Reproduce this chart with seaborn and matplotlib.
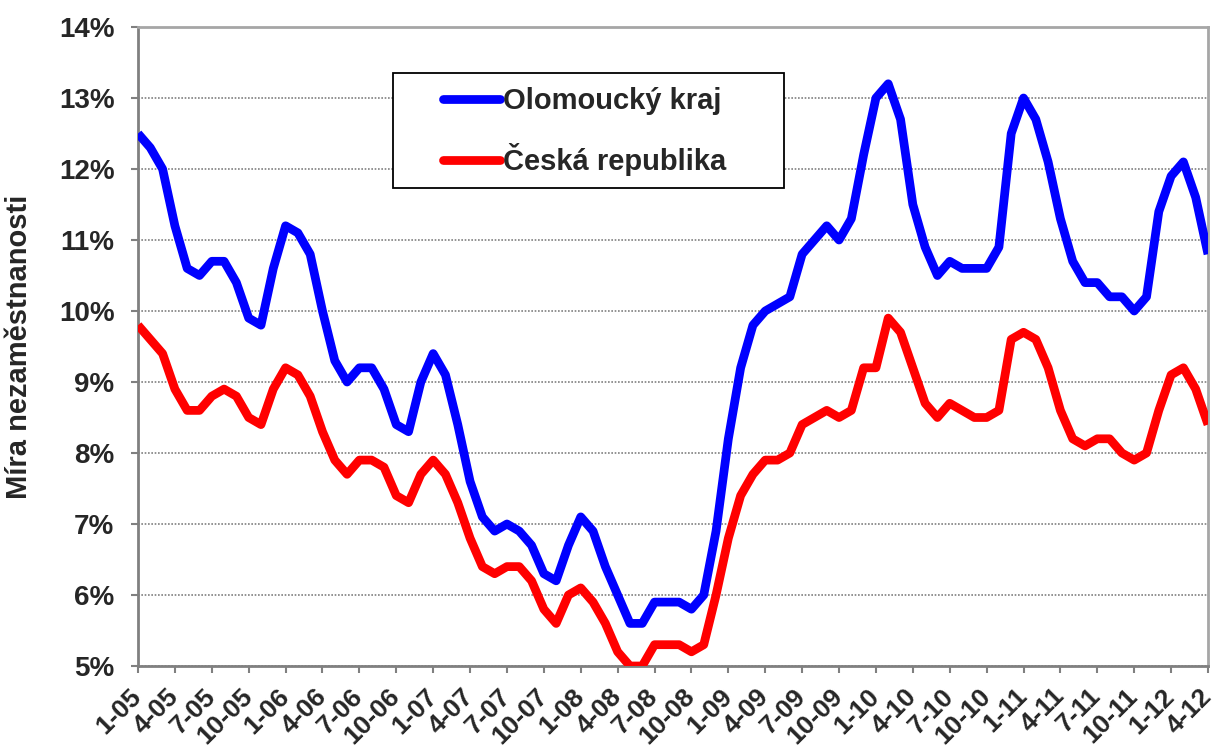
import numpy as np
import pandas as pd
import matplotlib
matplotlib.use("Agg")
import matplotlib.pyplot as plt
import matplotlib.transforms as mtransforms
from matplotlib.patches import Rectangle
import seaborn as sns

# ---------------- data ----------------
olomoucky = [12.5, 12.3, 12.0, 11.2, 10.6, 10.5, 10.7, 10.7, 10.4, 9.9, 9.8, 10.6,
             11.2, 11.1, 10.8, 10.0, 9.3, 9.0, 9.2, 9.2, 8.9, 8.4, 8.3, 9.0,
             9.4, 9.1, 8.4, 7.6, 7.1, 6.9, 7.0, 6.9, 6.7, 6.3, 6.2, 6.7,
             7.1, 6.9, 6.4, 6.0, 5.6, 5.6, 5.9, 5.9, 5.9, 5.8, 6.0, 6.9,
             8.2, 9.2, 9.8, 10.0, 10.1, 10.2, 10.8, 11.0, 11.2, 11.0, 11.3, 12.2,
             13.0, 13.2, 12.7, 11.5, 10.9, 10.5, 10.7, 10.6, 10.6, 10.6, 10.9, 12.5,
             13.0, 12.7, 12.1, 11.3, 10.7, 10.4, 10.4, 10.2, 10.2, 10.0, 10.2, 11.4,
             11.9, 12.1, 11.6, 10.8]
ceska = [9.8, 9.6, 9.4, 8.9, 8.6, 8.6, 8.8, 8.9, 8.8, 8.5, 8.4, 8.9,
         9.2, 9.1, 8.8, 8.3, 7.9, 7.7, 7.9, 7.9, 7.8, 7.4, 7.3, 7.7,
         7.9, 7.7, 7.3, 6.8, 6.4, 6.3, 6.4, 6.4, 6.2, 5.8, 5.6, 6.0,
         6.1, 5.9, 5.6, 5.2, 5.0, 5.0, 5.3, 5.3, 5.3, 5.2, 5.3, 6.0,
         6.8, 7.4, 7.7, 7.9, 7.9, 8.0, 8.4, 8.5, 8.6, 8.5, 8.6, 9.2,
         9.2, 9.9, 9.7, 9.2, 8.7, 8.5, 8.7, 8.6, 8.5, 8.5, 8.6, 9.6,
         9.7, 9.6, 9.2, 8.6, 8.2, 8.1, 8.2, 8.2, 8.0, 7.9, 8.0, 8.6,
         9.1, 9.2, 8.9, 8.4]
series_names = ["Olomoucký kraj", "Česká republika"]
x_tick_labels = ["1-05", "4-05", "7-05", "10-05",
                 "1-06", "4-06", "7-06", "10-06",
                 "1-07", "4-07", "7-07", "10-07",
                 "1-08", "4-08", "7-08", "10-08",
                 "1-09", "4-09", "7-09", "10-09",
                 "1-10", "4-10", "7-10", "10-10",
                 "1-11", "4-11", "7-11", "10-11",
                 "1-12", "4-12"]
y_ticks = [5, 6, 7, 8, 9, 10, 11, 12, 13, 14]
y_label = "Míra nezaměstnanosti"

# ---------------- style ----------------
sns.set_theme(style="ticks")
plt.rcParams["font.family"] = ["Liberation Sans", "DejaVu Sans"]
plt.rcParams["font.weight"] = "bold"
plt.rcParams["axes.labelweight"] = "bold"

W, H = 1215, 749
fig = plt.figure(figsize=(W / 100, H / 100), dpi=100)
L, R, T, B = 138, 1208, 27, 666
ax = fig.add_axes([L / W, 1 - B / H, (R - L) / W, (B - T) / H])

n = len(olomoucky)
df = pd.DataFrame({
    "month": list(range(n)) * 2,
    "rate": olomoucky + ceska,
    "region": [series_names[0]] * n + [series_names[1]] * n,
})
sns.lineplot(data=df, x="month", y="rate", hue="region",
             palette={series_names[0]: "#0000ff", series_names[1]: "#ff0000"},
             linewidth=6.3, ax=ax, sort=False, solid_joinstyle="round",
             solid_capstyle="butt", zorder=3)

ax.set_xlim(0, n - 1)
ax.set_ylim(y_ticks[0], y_ticks[-1])
ax.set_xticks(np.arange(0, n, 3))
ax.set_xticklabels(x_tick_labels, rotation=45, ha="right", va="center",
                   rotation_mode="anchor", fontsize=19, fontweight="bold")
offset = mtransforms.ScaledTranslation(4 / 100, 0, fig.dpi_scale_trans)
for lbl in ax.get_xticklabels():
    lbl.set_transform(lbl.get_transform() + offset)
ax.set_yticks(y_ticks)
ax.set_yticklabels([f"{v}%" for v in y_ticks], fontsize=20, fontweight="bold")
ax.tick_params(axis="y", direction="out", length=5, width=1.5, color="#808080", pad=12)
ax.tick_params(axis="x", direction="out", length=5, width=1.5, color="#808080", pad=14)

ax.set_xlabel("")
ax.set_ylabel(y_label, fontsize=21, fontweight="bold")
ax.yaxis.set_label_coords((33 - L) / (R - L), 0.5)

ax.yaxis.grid(True, color="#808080", linestyle=(0, (1, 1)), linewidth=1.2)
ax.xaxis.grid(False)
for side in ["left", "bottom"]:
    ax.spines[side].set_color("#808080")
    ax.spines[side].set_linewidth(2)
for side in ["top", "right"]:
    ax.spines[side].set_color("#a6a6a6")
    ax.spines[side].set_linewidth(2)
    ax.spines[side].set_visible(True)

# legend
def px2ax(x, y):
    return (x - L) / (R - L), (B - y) / (B - T)

handles, labels = ax.get_legend_handles_labels()
old = ax.get_legend()
if old is not None:
    old.remove()
bx0, by0 = px2ax(393, 188)
bx1, by1 = px2ax(784, 73)
ax.add_patch(Rectangle((bx0, by0), bx1 - bx0, by1 - by0, transform=ax.transAxes,
                       facecolor="white", edgecolor="black", linewidth=1.3,
                       zorder=4.5, clip_on=False))
for h in handles:
    h.set_solid_capstyle("round")
    h.set_linewidth(6.3)
lx, ly = px2ax(443, 87)
leg = ax.legend(handles, labels, loc="upper left", bbox_to_anchor=(lx, ly),
                bbox_transform=ax.transAxes, frameon=False, fontsize=21,
                handlelength=1.95, handletextpad=0.12, labelspacing=0.95,
                borderpad=0, borderaxespad=0)
leg.set_zorder(6)
for t in leg.get_texts():
    t.set_fontweight("bold")

fig.savefig("out.png", dpi=100)
